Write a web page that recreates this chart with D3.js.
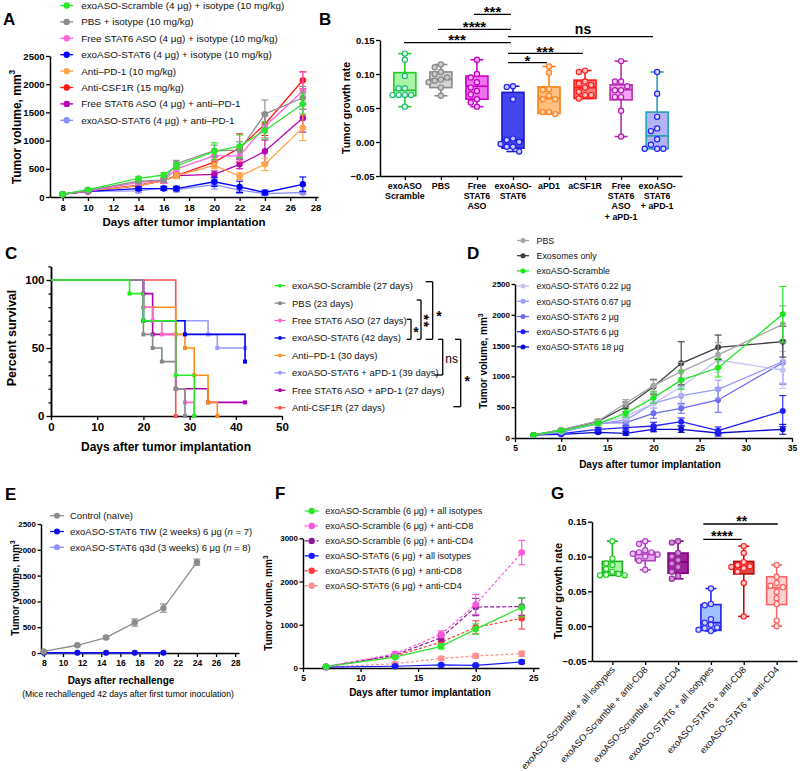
<!DOCTYPE html>
<html><head><meta charset="utf-8">
<script src="https://cdn.jsdelivr.net/npm/d3@7"></script>
<style>body{margin:0;background:#fff}svg{display:block}</style>
</head><body><svg id="c" width="800" height="771"></svg>
<script>
// ================= DATA =================
// Panel A
const aDays = [8, 10, 14, 16, 17, 20, 22, 24, 27];
const aTicksX = [8, 10, 12, 14, 16, 18, 20, 22, 24, 26, 28];
const aTicksY = [0, 500, 1000, 1500, 2000, 2500];
const aLabels = ["exoASO-Scramble (4 μg) + isotype (10 mg/kg)", "PBS + isotype (10 mg/kg)", "Free STAT6 ASO (4 μg) + isotype (10 mg/kg)", "exoASO-STAT6 (4 μg) + isotype (10 mg/kg)", "Anti–PD-1 (10 mg/kg)", "Anti-CSF1R (15 mg/kg)", "Free STAT6 ASO (4 μg) + anti–PD-1", "exoASO-STAT6 (4 μg) + anti–PD-1"];
const aScramble = [50, 130, 330, 390, 550, 810, 900, 1180, 1650];
const aPBS = [50, 115, 280, 300, 590, 820, 830, 1470, 1760];
const aFreeASO = [50, 100, 260, 290, 500, 730, 730, 1250, 1880];
const aExoSTAT6 = [50, 100, 150, 150, 150, 270, 180, 80, 225];
const aPD1 = [50, 100, 200, 290, 380, 560, 370, 580, 1230];
const aCSF1R = [50, 100, 210, 290, 380, 620, 870, 1290, 2070];
const aFreeASOPD1 = [50, 100, 200, 290, 380, 400, 580, 810, 1400];
const aExoPD1 = [50, 100, 110, 160, 130, 220, 120, 60, 80];
const aErrScramble = [5, 20, 30, 40, 60, 150, 200, 150, 180];
const aErrPBS = [5, 15, 30, 40, 60, 100, 150, 250, 200];
const aErrFreeASO = [5, 15, 30, 40, 50, 80, 100, 200, 330];
const aErrExoSTAT6 = [5, 15, 30, 30, 40, 80, 100, 40, 130];
const aErrPD1 = [5, 15, 30, 40, 50, 60, 60, 110, 230];
const aErrCSF1R = [5, 15, 30, 40, 40, 80, 250, 200, 150];
const aErrFreeASOPD1 = [5, 15, 30, 40, 50, 60, 80, 200, 250];
const aErrExoPD1 = [5, 15, 30, 30, 40, 80, 60, 30, 30];

// Panel B
const bCats = [["exoASO", "Scramble"], ["PBS"], ["Free", "STAT6", "ASO"], ["exoASO-", "STAT6"], ["aPD1"], ["aCSF1R"], ["Free", "STAT6", "ASO", "+ aPD-1"], ["exoASO-", "STAT6", "+ aPD-1"]];
const bTicksY = [-0.05, 0, 0.05, 0.10, 0.15];
const b1 = [0.130, 0.121, 0.097, 0.079, 0.079, 0.069, 0.069, 0.069, 0.069, 0.052];
const b2 = [0.114, 0.110, 0.103, 0.100, 0.095, 0.092, 0.090, 0.088, 0.080, 0.068];
const b3 = [0.121, 0.100, 0.095, 0.088, 0.080, 0.075, 0.070, 0.063, 0.058, 0.052];
const b4 = [0.082, 0.081, 0.063, 0.005, 0.003, 0.000, -0.003, -0.007, -0.007, -0.014];
const b5 = [0.111, 0.102, 0.078, 0.077, 0.068, 0.063, 0.063, 0.044, 0.044, 0.041];
const b6 = [0.105, 0.103, 0.089, 0.086, 0.084, 0.080, 0.074, 0.069, 0.069, 0.064];
const b7 = [0.119, 0.089, 0.089, 0.082, 0.076, 0.076, 0.066, 0.066, 0.046, 0.008];
const b8 = [0.103, 0.071, 0.037, 0.020, 0.016, 0.004, -0.004, -0.010, -0.010, -0.010];
const bMin = [0.052, 0.068, 0.052, -0.014, 0.041, 0.064, 0.008, -0.010];
const bQ1 = [0.068, 0.080, 0.063, -0.009, 0.042, 0.064, 0.062, -0.010];
const bMed = [0.076, 0.092, 0.082, 0.003, 0.064, 0.080, 0.077, 0.009];
const bQ3 = [0.102, 0.103, 0.097, 0.073, 0.081, 0.091, 0.084, 0.044];
const bMax = [0.130, 0.114, 0.121, 0.082, 0.111, 0.105, 0.119, 0.103];

// Panel C (Kaplan-Meier)
const cLabels = ["exoASO-Scramble (27 days)", "PBS (23 days)", "Free STAT6 ASO (27 days)", "exoASO-STAT6 (42 days)", "Anti–PD-1 (30 days)", "exoASO-STAT6 + aPD-1 (39 days)", "Free  STAT6  ASO + aPD-1 (27 days)", "Anti-CSF1R (27 days)"];
const cTicksX = [0, 10, 20, 30, 40, 50];
const cTicksY = [0, 50, 100];
const cMinorY = [10, 20, 30, 40, 60, 70, 80, 90, 110];
const cT1 = [0, 17, 20, 27, 31], cS1 = [100, 90, 70, 30, 0];
const cT2 = [0, 20, 22, 24, 27, 29], cS2 = [100, 60, 50, 40, 20, 0];
const cT3 = [0, 20, 22, 24, 27, 29, 31], cS3 = [100, 80, 70, 60, 20, 10, 0];
const cT4 = [0, 20, 29, 42], cS4 = [100, 70, 60, 40];
const cT5 = [0, 20, 27, 29, 31, 34, 36], cS5 = [100, 80, 60, 50, 30, 10, 0];
const cT6 = [0, 20, 34, 36], cS6 = [100, 70, 60, 50];
const cT7 = [0, 20, 22, 27, 34], cS7 = [100, 90, 60, 20, 10];
const cT8 = [0, 27], cS8 = [100, 0];
const cEnd = [31, 29, 31, 42, 36, 42, 42, 27];

// Panel D
const dDays = [7, 10, 14, 17, 20, 23, 27, 34];
const dTicksX = [5, 10, 15, 20, 25, 30, 35];
const dTicksY = [0, 500, 1000, 1500, 2000, 2500];
const dLabels = ["PBS", "Exosomes only", "exoASO-Scramble", "exoASO-STAT6 0.22 μg", "exoASO-STAT6 0.67 μg", "exoASO-STAT6 2 μg", "exoASO-STAT6 6 μg", "exoASO-STAT6 18 μg"];
const dPBS = [50, 130, 276, 563, 850, 1077, 1350, 1845];
const dExo = [50, 130, 270, 508, 833, 1212, 1472, 1563];
const dScr = [50, 118, 238, 400, 655, 940, 1140, 2010];
const d022 = [50, 110, 240, 346, 563, 833, 1266, 1104];
const d067 = [50, 100, 230, 292, 563, 687, 790, 1239];
const d2 = [50, 90, 240, 248, 400, 482, 617, 1222];
const d6 = [50, 70, 141, 168, 195, 265, 119, 438];
const d18 = [50, 60, 92, 76, 141, 141, 81, 141];
const dErrPBS = [5, 20, 30, 60, 90, 150, 200, 300];
const dErrExo = [5, 20, 30, 80, 120, 350, 200, 250];
const dErrScr = [5, 20, 30, 60, 90, 150, 150, 450];
const dErr022 = [5, 15, 30, 50, 80, 150, 200, 300];
const dErr067 = [5, 15, 30, 50, 80, 150, 150, 350];
const dErr2 = [5, 15, 30, 60, 80, 80, 200, 350];
const dErr6 = [5, 10, 30, 40, 60, 60, 60, 250];
const dErr18 = [5, 10, 20, 30, 40, 50, 50, 80];

// Panel E
const eDays = [8, 11.5, 14.5, 17.5, 20.5, 24];
const eTicksX = [8, 10, 12, 14, 16, 18, 20, 22, 24, 26, 28];
const eTicksY = [0, 500, 1000, 1500, 2000, 2500];
const eLabels = [["Control (naïve)"], ["exoASO-STAT6 TIW (2 weeks) 6 μg (", "n", " = 7)"], ["exoASO-STAT6 q3d (3 weeks) 6  μg (", "n", " = 8)"]];
const eControl = [30, 150, 300, 590, 870, 1760];
const eTIW = [5, 5, 5, 5, 5, null];
const eQ3D = [5, 5, 5, 5, 5, null];
const eErrControl = [5, 15, 25, 70, 80, 60];

// Panel F
const fDays = [7, 13, 17, 20, 24];
const fTicksX = [5, 10, 15, 20, 25];
const fTicksY = [0, 1000, 2000, 3000];
const fLabels = ["exoASO-Scramble (6 μg) + all isotypes", "exoASO-Scramble (6 μg) + anti-CD8", "exoASO-Scramble (6 μg) + anti-CD4", "exoASO-STAT6 (6 μg) + all isotypes", "exoASO-STAT6 (6 μg) + anti-CD8", "exoASO-STAT6 (6 μg) + anti-CD4"];
const fScrIso = [30, 250, 500, 900, 1400];
const fScrCD8 = [30, 330, 780, 1470, 2670];
const fScrCD4 = [30, 300, 700, 1410, 1420];
const fStatIso = [20, 40, 70, 60, 140];
const fStatCD8 = [30, 280, 600, 940, 1150];
const fStatCD4 = [20, 100, 220, 280, 330];
const fErrScrIso = [5, 30, 60, 120, 220];
const fErrScrCD8 = [5, 40, 80, 230, 280];
const fErrScrCD4 = [5, 40, 80, 200, 200];
const fErrStatIso = [5, 10, 20, 20, 40];
const fErrStatCD8 = [5, 30, 60, 150, 250];
const fErrStatCD4 = [5, 20, 40, 50, 60];

// Panel G
const gCats = ["exoASO-Scramble + all isotypes", "exoASO-Scramble + anti-CD8", "exoASO-Scramble + anti-CD4", "exoASO-STAT6 + all isotypes", "exoASO-STAT6 + anti-CD8", "exoASO-STAT6 + anti-CD4"];
const gTicksY = [-0.05, 0, 0.05, 0.10, 0.15];
const g1 = [0.122, 0.097, 0.090, 0.088, 0.082, 0.078, 0.075, 0.074, 0.073, 0.073];
const g2 = [0.122, 0.118, 0.109, 0.106, 0.106, 0.104, 0.103, 0.100, 0.094, 0.081];
const g3 = [0.122, 0.120, 0.105, 0.100, 0.095, 0.090, 0.085, 0.078, 0.072, 0.068];
const g4 = [0.054, 0.032, 0.030, 0.010, 0.005, 0.002, -0.002, -0.003, -0.005, -0.007];
const g5 = [0.115, 0.105, 0.092, 0.088, 0.086, 0.085, 0.083, 0.078, 0.062, 0.014];
const g6 = [0.088, 0.071, 0.062, 0.058, 0.056, 0.049, 0.040, 0.032, 0.008, 0.000];
const gMin = [0.073, 0.081, 0.068, -0.007, 0.014, 0.000];
const gQ1 = [0.073, 0.094, 0.076, -0.006, 0.075, 0.031];
const gMed = [0.078, 0.103, 0.092, 0.005, 0.085, 0.055];
const gQ3 = [0.093, 0.106, 0.105, 0.031, 0.093, 0.071];
const gMax = [0.122, 0.122, 0.122, 0.054, 0.115, 0.088];

// ================= STYLES =================
const FONT = '"Liberation Sans", Arial, Helvetica, sans-serif';
const aColors = ["#2ee52e", "#8c8c8c", "#ff66d9", "#0000ff", "#ffa347", "#ff1a1a", "#b300b3", "#8f8fff"];
const bStroke = ["#22cc22", "#8a8a8a", "#cc00cc", "#1a1acc", "#ff7f0e", "#ff1a1a", "#b32db3", "#26a0b3"];
const bFill = ["#a8f5a8", "#d3d3d3", "#f070f0", "#4545ee", "#ffbf80", "#ff7777", "#f5a3f5", "#b3b3f5"];
const bPtStroke = ["#22bb77", "#888888", "#bb00bb", "#2222ee", "#ff8020", "#ff2020", "#b020b0", "#2020ff"];
const bPtFill = ["#e0ffe8", "#cccccc", "#ffb0ff", "#c8c8ff", "#ffd8b0", "#ffc0c0", "#f8d0f8", "#d8d8ff"];
const cColors = ["#22ee22", "#888888", "#ff66cc", "#0000ee", "#ff8c1a", "#9999ff", "#b000b0", "#ff5050"];
const dColors = ["#a6a6a6", "#3d3d3d", "#1ee61e", "#c4c4f7", "#9c9cf5", "#6b6bf2", "#2020ff", "#0a0ad0"];
const eColors = ["#8c8c8c", "#1010ee", "#9090ff"];
const fColors = ["#2ee52e", "#ff55dd", "#8a1a9a", "#1a1aff", "#ff3b3b", "#ff9090"];
const fDash = [null, "3,2", "4,2", null, "3,2", "3,2"];
const gStroke = ["#22aa22", "#b040c0", "#800080", "#2020ee", "#b01010", "#ff6060"];
const gFill = ["#a8f5a8", "#e6a8f0", "#a020a0", "#a0c0ff", "#e04848", "#ffd0d0"];
const gPtStroke = ["#22cc22", "#b040c0", "#9a309a", "#3030ff", "#ff2020", "#ff6060"];
const gPtFill = ["#d8ffd8", "#f0c8f8", "#d090d8", "#d0d8ff", "#ffc8c8", "#ffe8e8"];

// ================= HELPERS =================
const svg = d3.select('#c').attr('font-family', FONT);
svg.append('rect').attr('width', 800).attr('height', 771).attr('fill', '#fff');
const intFmt = d3.format('d');

function styleAxis(g, fs) {
  g.attr('font-family', FONT).attr('font-size', fs).attr('font-weight', 'bold');
  g.select('.domain').attr('stroke', '#000').attr('stroke-width', 1.5);
  g.selectAll('.tick line').attr('stroke', '#000').attr('stroke-width', 1.3);
  g.selectAll('.tick text').attr('fill', '#000');
}
function txt(x, y, s, fs, fw, anchor) {
  return svg.append('text').attr('x', x).attr('y', y).attr('font-size', fs)
    .attr('font-weight', fw || 'normal').attr('text-anchor', anchor || 'start').attr('fill', '#000').text(s);
}
function yTitle(x, cy, s, fs, sup) {
  const t = svg.append('text').attr('transform', `translate(${x},${cy}) rotate(-90)`)
    .attr('text-anchor', 'middle').attr('font-size', fs).attr('font-weight', 'bold');
  t.append('tspan').text(s);
  if (sup) t.append('tspan').attr('dy', -fs * 0.42).attr('font-size', fs * 0.7).text(sup);
}
function panelLabel(s, x, y) { txt(x, y, s, 17, 'bold'); }
function stars(s, cx, cy, fs, fw) {
  txt(cx, cy + fs * 0.56, s, fs, fw || 'bold', 'middle');
}
function hline(x1, x2, y, w) {
  svg.append('line').attr('x1', x1).attr('x2', x2).attr('y1', y).attr('y2', y).attr('stroke', '#000').attr('stroke-width', w || 1.3);
}
function vline(x, y1, y2, w) {
  svg.append('line').attr('x1', x).attr('x2', x).attr('y1', y1).attr('y2', y2).attr('stroke', '#000').attr('stroke-width', w || 1.3);
}
function drawSeries(g, x, y, days, vals, errs, color, o) {
  const r = o.r, cap = o.cap;
  const ymin = y.domain()[0];
  const eg = g.append('g').attr('stroke', color).attr('stroke-width', 1.1);
  days.forEach((d, j) => {
    const v = vals[j]; if (v == null || !errs) return;
    const e = errs[j]; if (!e) return;
    const yt = y(v + e), yb = y(Math.max(v - e, ymin));
    eg.append('line').attr('x1', x(d)).attr('x2', x(d)).attr('y1', yt).attr('y2', yb);
    eg.append('line').attr('x1', x(d) - cap).attr('x2', x(d) + cap).attr('y1', yt).attr('y2', yt);
    if (v - e > ymin) eg.append('line').attr('x1', x(d) - cap).attr('x2', x(d) + cap).attr('y1', yb).attr('y2', yb);
  });
  const pts = days.map((d, j) => [d, vals[j]]).filter(p => p[1] != null);
  g.append('path').datum(pts).attr('fill', 'none').attr('stroke', color).attr('stroke-width', o.lw || 1.3)
    .attr('stroke-dasharray', o.dash || null).attr('d', d3.line().x(p => x(p[0])).y(p => y(p[1])));
  g.append('g').selectAll('circle').data(pts).join('circle')
    .attr('cx', p => x(p[0])).attr('cy', p => y(p[1])).attr('r', r).attr('fill', color);
}
function legend(x, y0, dy, labels, colors, o) {
  labels.forEach((lab, i) => {
    const y = y0 + i * dy;
    svg.append('line').attr('x1', x - o.half).attr('x2', x + o.half).attr('y1', y).attr('y2', y)
      .attr('stroke', colors[i]).attr('stroke-width', 1.3).attr('stroke-dasharray', o.dash ? o.dash[i] : null);
    svg.append('circle').attr('cx', x).attr('cy', y).attr('r', o.r).attr('fill', colors[i]);
    const t = svg.append('text').attr('x', x + o.gap).attr('y', y + o.fs * 0.36).attr('font-size', o.fs).attr('fill', '#111');
    const segs = Array.isArray(lab) ? lab : [lab];
    segs.forEach((s, k) => t.append('tspan').attr('font-style', k % 2 ? 'italic' : 'normal').text(s));
  });
}
function swarm(vals, y, r, step) {
  const placed = [], res = new Array(vals.length);
  const order = vals.map((v, i) => i).sort((a, b) => vals[b] - vals[a]);
  const offs = [0, -1, 1, -2, 2, -3, 3];
  order.forEach(i => {
    const py = y(vals[i]);
    for (const o of offs) {
      const px = o * step;
      if (placed.every(p => Math.hypot(p[0] - px, p[1] - py) >= 2 * r + 0.3)) { placed.push([px, py]); res[i] = [px, py]; break; }
    }
    if (!res[i]) res[i] = [0, py];
  });
  return res;
}
function drawBoxes(x, y, groups, mins, q1s, meds, q3s, maxs, st, fi, ps, pf, bw, capW, r) {
  groups.forEach((vals, i) => {
    const cx = x(i), g = svg.append('g');
    g.append('line').attr('x1', cx).attr('x2', cx).attr('y1', y(maxs[i])).attr('y2', y(mins[i])).attr('stroke', st[i]).attr('stroke-width', 1.6);
    [maxs[i], mins[i]].forEach(v => g.append('line').attr('x1', cx - capW / 2).attr('x2', cx + capW / 2).attr('y1', y(v)).attr('y2', y(v)).attr('stroke', st[i]).attr('stroke-width', 1.6));
    g.append('rect').attr('x', cx - bw / 2).attr('width', bw).attr('y', y(q3s[i])).attr('height', y(q1s[i]) - y(q3s[i]))
      .attr('fill', fi[i]).attr('stroke', st[i]).attr('stroke-width', 1.6);
    g.append('line').attr('x1', cx - bw / 2).attr('x2', cx + bw / 2).attr('y1', y(meds[i])).attr('y2', y(meds[i])).attr('stroke', st[i]).attr('stroke-width', 1.8);
    const pos = swarm(vals, y, r, 2 * r + 1);
    g.selectAll('circle').data(pos).join('circle').attr('cx', p => cx + p[0]).attr('cy', p => p[1]).attr('r', r)
      .attr('fill', pf[i]).attr('stroke', ps[i]).attr('stroke-width', 1.2);
  });
}

// ================= PANEL A =================
{
  const x = d3.scaleLinear().domain([7, 28.2]).range([50, 318]);
  const y = d3.scaleLinear().domain([0, 2500]).range([197, 56]);
  svg.append('g').attr('transform', 'translate(0,197)').call(d3.axisBottom(x).tickValues(aTicksX).tickSize(4).tickSizeOuter(0)).call(g => styleAxis(g, 9.5));
  svg.append('g').attr('transform', 'translate(50,0)').call(d3.axisLeft(y).tickValues(aTicksY).tickFormat(intFmt).tickSize(4).tickPadding(1.5).tickSizeOuter(0)).call(g => styleAxis(g, 9.5));
  const vals = [aScramble, aPBS, aFreeASO, aExoSTAT6, aPD1, aCSF1R, aFreeASOPD1, aExoPD1];
  const errs = [aErrScramble, aErrPBS, aErrFreeASO, aErrExoSTAT6, aErrPD1, aErrCSF1R, aErrFreeASOPD1, aErrExoPD1];
  const g = svg.append('g');
  for (let i = vals.length - 1; i >= 0; i--) drawSeries(g, x, y, aDays, vals[i], errs[i], aColors[i], { r: 3.2, cap: 3.5 });
  legend(66.7, 5.5, 16.4, aLabels, aColors, { half: 6.5, r: 3.2, gap: 14.5, fs: 9.9 });
  panelLabel('A', 3, 24.5);
  yTitle(20.5, 127, 'Tumor volume, mm', 12, '3');
  txt(184, 226, 'Days after tumor implantation', 11.5, 'bold', 'middle');
}

// ================= PANEL B =================
{
  const x = d3.scalePoint().domain(d3.range(bCats.length)).range([380, 682]).padding(0.69);
  const y = d3.scaleLinear().domain([-0.05, 0.15]).range([176, 40]);
  svg.append('g').attr('transform', 'translate(380,0)').call(d3.axisLeft(y).tickValues(bTicksY).tickFormat(d3.format('.2f')).tickSize(4).tickPadding(1.5).tickSizeOuter(0)).call(g => styleAxis(g, 9.5));
  svg.append('g').attr('transform', 'translate(0,176)').call(d3.axisBottom(x).tickSize(4).tickSizeOuter(0).tickFormat('')).call(g => styleAxis(g, 8.5));
  bCats.forEach((lines, i) => {
    const t = svg.append('text').attr('text-anchor', 'middle').attr('font-size', 8.8).attr('font-weight', 'bold');
    lines.forEach((l, k) => t.append('tspan').attr('x', x(i)).attr('y', 189 + k * 10.2).text(l));
  });
  drawBoxes(x, y, [b1, b2, b3, b4, b5, b6, b7, b8], bMin, bQ1, bMed, bQ3, bMax, bStroke, bFill, bPtStroke, bPtFill, 22, 13, 2.6);
  panelLabel('B', 319, 24.5);
  yTitle(350, 108, 'Tumor  growth  rate', 10.5);
  hline(474, 511, 14.3); stars('***', 492.5, 9, 15);
  hline(438, 511, 29.3); stars('****', 474.5, 23.5, 15);
  hline(404, 511, 42.7); stars('***', 457, 37, 15);
  hline(508, 653, 36.7); txt(583, 34, 'ns', 14, 'bold', 'middle');
  hline(508, 583, 53.3); stars('***', 545, 48.3, 15);
  hline(508, 547, 62.7); stars('*', 527.5, 57.5, 15);
}

// ================= PANEL C =================
{
  const x = d3.scaleLinear().domain([0, 50]).range([51, 282]);
  const y = d3.scaleLinear().domain([0, 110]).range([416, 266.4]);
  svg.append('g').attr('transform', 'translate(0,416)').call(d3.axisBottom(x).tickValues(cTicksX).tickSize(4).tickSizeOuter(0)).call(g => styleAxis(g, 11.5));
  svg.append('g').attr('transform', 'translate(51,0)').call(d3.axisLeft(y).tickValues(cTicksY).tickSize(4.5).tickPadding(2).tickSizeOuter(0)).call(g => styleAxis(g, 11.5));
  svg.append('g').attr('transform', 'translate(51,0)').call(d3.axisLeft(y).tickValues(cMinorY).tickSize(2.5).tickFormat('').tickSizeOuter(0)).call(g => styleAxis(g, 11.5));
  const T = [cT1, cT2, cT3, cT4, cT5, cT6, cT7, cT8], S = [cS1, cS2, cS3, cS4, cS5, cS6, cS7, cS8];
  for (let i = T.length - 1; i >= 0; i--) {
    const t = T[i], s = S[i], pts = [[0, s[0]]], marks = [];
    for (let k = 1; k < t.length; k++) { pts.push([t[k], s[k - 1]]); pts.push([t[k], s[k]]); marks.push([t[k], s[k]]); }
    if (cEnd[i] > t[t.length - 1]) { pts.push([cEnd[i], s[s.length - 1]]); marks.push([cEnd[i], s[s.length - 1]]); }
    svg.append('path').datum(pts).attr('fill', 'none').attr('stroke', cColors[i]).attr('stroke-width', 1.6)
      .attr('d', d3.line().x(p => x(p[0])).y(p => y(p[1])));
    svg.append('g').selectAll('rect').data(marks).join('rect').attr('x', p => x(p[0]) - 2).attr('y', p => y(p[1]) - 2)
      .attr('width', 4).attr('height', 4).attr('fill', cColors[i]);
  }
  legend(280, 285.7, 17.43, cLabels, cColors, { half: 5.5, r: 2, gap: 12, fs: 9.5 });
  panelLabel('C', 5, 258.5);
  yTitle(15.5, 338, 'Percent survival', 12.5);
  txt(166, 451, 'Days after tumor implantation', 12, 'bold', 'middle');
  hline(406.7, 411, 319.3); hline(406.7, 411, 339.3); vline(411, 319.3, 339.3); stars('*', 416, 329, 14);
  hline(416.7, 421, 300); hline(416.7, 421, 339.3); vline(421, 300, 339.3);
  svg.append('text').attr('transform', 'translate(419,321.5) rotate(90)').attr('text-anchor', 'middle')
    .attr('font-size', 14).attr('font-weight', 'bold').attr('letter-spacing', 1.5).text('**');
  hline(425.7, 432.7, 281.7); hline(425.7, 432.7, 339.3); vline(432.7, 281.7, 339.3); stars('*', 439, 313.3, 14);
  hline(438, 442.7, 339.3); hline(435, 442.7, 375); vline(442.7, 339.3, 375); txt(451.7, 363, 'ns', 12, 'normal', 'middle');
  hline(455, 460.7, 339.3); hline(453.3, 460.7, 406.7); vline(460.7, 339.3, 406.7); stars('*', 467.3, 378.3, 14);
}

// ================= PANEL D =================
{
  const x = d3.scaleLinear().domain([5, 35]).range([515, 792]);
  const y = d3.scaleLinear().domain([0, 2500]).range([438, 284]);
  svg.append('g').attr('transform', 'translate(0,438)').call(d3.axisBottom(x).tickValues(dTicksX).tickSize(4).tickSizeOuter(0)).call(g => styleAxis(g, 8.5));
  svg.append('g').attr('transform', 'translate(515,0)').call(d3.axisLeft(y).tickValues(dTicksY).tickFormat(intFmt).tickSize(3.5).tickPadding(1.5).tickSizeOuter(0)).call(g => styleAxis(g, 8));
  const vals = [dPBS, dExo, dScr, d022, d067, d2, d6, d18];
  const errs = [dErrPBS, dErrExo, dErrScr, dErr022, dErr067, dErr2, dErr6, dErr18];
  const g = svg.append('g');
  const order = [7, 6, 5, 4, 3, 1, 0, 2];
  order.forEach(i => drawSeries(g, x, y, dDays, vals[i], errs[i], dColors[i], { r: 3, cap: 3.5 }));
  legend(523, 240.5, 15.2, dLabels, dColors, { half: 6, r: 2.5, gap: 13.5, fs: 8.9 });
  panelLabel('D', 467, 258.5);
  yTitle(487, 361, 'Tumor volume, mm', 10, '3');
  txt(650, 468, 'Days after tumor implantation', 10, 'bold', 'middle');
}

// ================= PANEL E =================
{
  const x = d3.scaleLinear().domain([7.7, 28.4]).range([41, 239]);
  const y = d3.scaleLinear().domain([0, 2500]).range([653, 524]);
  svg.append('g').attr('transform', 'translate(0,653)').call(d3.axisBottom(x).tickValues(eTicksX).tickSize(4).tickSizeOuter(0)).call(g => styleAxis(g, 8.5));
  svg.append('g').attr('transform', 'translate(41,0)').call(d3.axisLeft(y).tickValues(eTicksY).tickFormat(intFmt).tickSize(3.5).tickPadding(1.5).tickSizeOuter(0)).call(g => styleAxis(g, 8));
  const g = svg.append('g');
  drawSeries(g, x, y, eDays, eQ3D, null, eColors[2], { r: 3, cap: 3 });
  drawSeries(g, x, y, eDays, eTIW, null, eColors[1], { r: 3, cap: 3 });
  drawSeries(g, x, y, eDays, eControl, eErrControl, eColors[0], { r: 3.2, cap: 3.5 });
  legend(57, 515.7, 15.8, eLabels, eColors, { half: 7, r: 3, gap: 13, fs: 9.5 });
  panelLabel('E', 5, 499.5);
  yTitle(19, 588, 'Tumor volume, mm', 10, '3');
  txt(121, 684, 'Days after rechallenge', 10, 'bold', 'middle');
  txt(128, 697, '(Mice rechallenged 42 days after first tumor inoculation)', 8.6, 'normal', 'middle');
}

// ================= PANEL F =================
{
  const x = d3.scaleLinear().domain([5, 25.5]).range([303, 539]);
  const y = d3.scaleLinear().domain([0, 3000]).range([668, 538.3]);
  svg.append('g').attr('transform', 'translate(0,668)').call(d3.axisBottom(x).tickValues(fTicksX).tickSize(4).tickSizeOuter(0)).call(g => styleAxis(g, 8.5));
  svg.append('g').attr('transform', 'translate(303,0)').call(d3.axisLeft(y).tickValues(fTicksY).tickFormat(intFmt).tickSize(3.5).tickPadding(1.5).tickSizeOuter(0)).call(g => styleAxis(g, 8));
  const vals = [fScrIso, fScrCD8, fScrCD4, fStatIso, fStatCD8, fStatCD4];
  const errs = [fErrScrIso, fErrScrCD8, fErrScrCD4, fErrStatIso, fErrStatCD8, fErrStatCD4];
  const g = svg.append('g');
  [5, 4, 3, 2, 1, 0].forEach(i => drawSeries(g, x, y, fDays, vals[i], errs[i], fColors[i], { r: 3.3, cap: 3.5, dash: fDash[i], lw: 1.2 }));
  legend(311.7, 511, 14.95, fLabels, fColors, { half: 7, r: 3.2, gap: 13.5, fs: 9.1, dash: fDash });
  panelLabel('F', 275, 498.5);
  yTitle(272, 603, 'Tumor volume, mm', 10, '3');
  txt(420, 696, 'Days after tumor implantation', 10, 'bold', 'middle');
}

// ================= PANEL G =================
{
  const x = d3.scalePoint().domain(d3.range(gCats.length)).range([592, 797]).padding(0.62);
  const y = d3.scaleLinear().domain([-0.05, 0.15]).range([661, 521.7]);
  svg.append('g').attr('transform', 'translate(592,0)').call(d3.axisLeft(y).tickValues(gTicksY).tickFormat(d3.format('.2f')).tickSize(4).tickPadding(1.5).tickSizeOuter(0)).call(g => styleAxis(g, 9.5));
  svg.append('g').attr('transform', 'translate(0,661)').call(d3.axisBottom(x).tickSize(4).tickSizeOuter(0).tickFormat('')).call(g => styleAxis(g, 8.5));
  gCats.forEach((c, i) => {
    svg.append('text').attr('transform', `translate(${x(i) + 3},${670}) rotate(-48)`).attr('text-anchor', 'end')
      .attr('font-size', 9.4).attr('fill', '#111').text(c);
  });
  drawBoxes(x, y, [g1, g2, g3, g4, g5, g6], gMin, gQ1, gMed, gQ3, gMax, gStroke, gFill, gPtStroke, gPtFill, 20, 11, 2.6);
  panelLabel('G', 551, 498.5);
  yTitle(562, 591, 'Tumor growth rate', 11);
  hline(703.3, 777.7, 524); stars('**', 741.7, 518.3, 14);
  hline(703.3, 741.7, 539.3); stars('****', 722, 532.7, 14);
}
</script></body></html>
